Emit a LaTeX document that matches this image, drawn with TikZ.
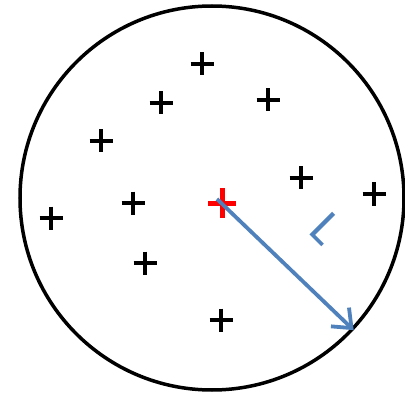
\documentclass[tikz,border=0pt]{standalone}
\usepackage{fontspec}
\setmainfont{Carlito}
\usetikzlibrary{arrows.meta}
\definecolor{arrowblue}{HTML}{4F81BD}
\tikzset{
  plusmark/.pic={\draw[line width=4pt,black] (-11.5,0)--(11.5,0) (0,-11.5)--(0,11.5);},
  redplus/.pic={\draw[line width=5pt,red] (-14,0)--(14,0) (0,-14.5)--(0,14.5);},
  ring/.style={draw=black,line width=3.5pt,circle,minimum size=384pt,inner sep=0pt},
  radiusarrow/.style={draw=arrowblue,line width=3.8pt,-{Straight Barb[length=16pt,width=26pt,line width=3.8pt]}},
  radlabel/.style={text=arrowblue,font=\fontsize{50}{52}\selectfont,rotate=-45,inner sep=0pt}
}
\begin{document}
\begin{tikzpicture}[x=1pt,y=-1pt]
\useasboundingbox (0,0) rectangle (405,396);
\fill[white] (0,0) rectangle (405,396);
\node[ring] (C) at (212,198) {};
\pic at (202,64) {plusmark};
\pic at (161,103) {plusmark};
\pic at (268,100) {plusmark};
\pic at (101,141) {plusmark};
\pic at (301,178) {plusmark};
\pic at (374,194) {plusmark};
\pic at (133,203) {plusmark};
\pic at (51,218) {plusmark};
\pic at (145,263) {plusmark};
\pic at (221,320) {plusmark};
\pic at (222,203) {redplus};
\coordinate (O) at (217,199);
\coordinate (E) at (C.-43);
\draw[radiusarrow] (O) -- (E);
\node[radlabel] (L) at (326,229) {L};
\end{tikzpicture}
\end{document}
